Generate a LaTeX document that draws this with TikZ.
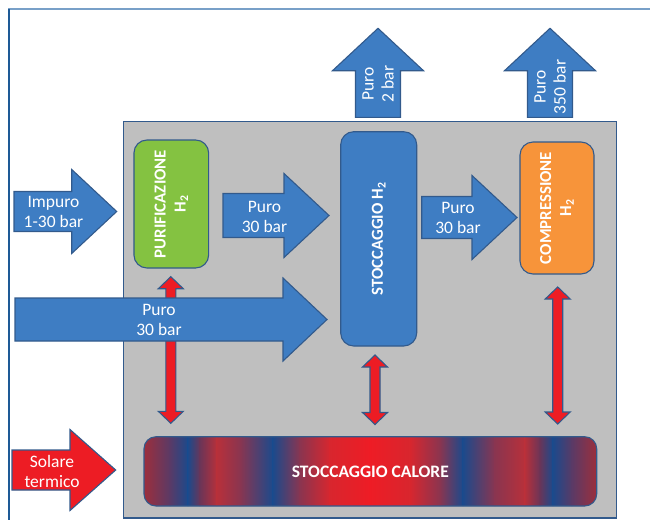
\documentclass[tikz,border=0pt]{standalone}
\usepackage{fontspec}
\setmainfont{Carlito}
\definecolor{arrowblue}{RGB}{62,125,195}
\definecolor{edgeblue}{RGB}{50,90,140}
\definecolor{boxgreen}{RGB}{132,194,65}
\definecolor{boxorange}{RGB}{247,148,58}
\definecolor{grayfill}{RGB}{191,191,191}
\definecolor{redfill}{RGB}{237,28,36}
\definecolor{frametop}{RGB}{120,160,200}
\definecolor{frameleft}{RGB}{30,90,150}
\definecolor{hA}{RGB}{160,46,58}
\definecolor{hB}{RGB}{90,58,102}
\definecolor{hC}{RGB}{27,74,140}
\definecolor{hD}{RGB}{106,53,88}
\definecolor{hE}{RGB}{184,48,58}
\definecolor{hF}{RGB}{138,53,80}
\definecolor{hG}{RGB}{216,38,46}
\definecolor{hH}{RGB}{238,28,37}
\newcommand\lblfont{\fontsize{17.5}{20}\selectfont}
\newcommand\boxfont{\fontsize{16.8}{20}\selectfont\bfseries}
\newcommand\rightblock[7][bluearrow]{%
  \draw[#1] (#2,{#5-#6}) -- (#3,{#5-#6}) -- (#3,{#5-#7}) -- (#4,#5) -- (#3,{#5+#7}) -- (#3,{#5+#6}) -- (#2,{#5+#6}) -- cycle;}
\newcommand\upblock[6]{%
  \draw[bluearrow] ({#1-#5},#2) -- ({#1-#5},#3) -- ({#1-#6},#3) -- (#1,#4) -- ({#1+#6},#3) -- ({#1+#5},#3) -- ({#1+#5},#2) -- cycle;}
\newcommand\dblred[3]{%
  \draw[redarrow] (#1,#2) -- ({#1+12.5},{#2+12}) -- ({#1+5},{#2+12}) -- ({#1+5},{#3-12}) -- ({#1+12.5},{#3-12}) -- (#1,#3) -- ({#1-12.5},{#3-12}) -- ({#1-5},{#3-12}) -- ({#1-5},{#2+12}) -- ({#1-12.5},{#2+12}) -- cycle;}
\tikzset{
  shapeedge/.style={draw=edgeblue, line width=1.1pt, line join=miter},
  bluearrow/.style={shapeedge, fill=arrowblue},
  redarrow/.style={shapeedge, fill=redfill},
  lab/.style={text=white, font=\lblfont, align=center, inner sep=0pt},
  boxlab/.style={text=white, font=\boxfont, align=center},
  procbox/.style={shapeedge, rounded corners=13pt, inner sep=0pt, rotate=90, boxlab},
}
\begin{document}
\begin{tikzpicture}[x=1pt, y=-1pt]
\useasboundingbox (0,0) rectangle (650,520);
% frame
\draw[frametop, line width=1.6pt] (8,9) -- (650,9);
\draw[frameleft, line width=1.6pt] (9,8.5) -- (9,520);
% gray area
\draw[fill=grayfill, draw=edgeblue, line width=1.5pt] (123.5,121.7) rectangle (616.7,518);
% red double arrows
\dblred{170.8}{276.7}{423.3}
\dblred{375}{355}{424.5}
\dblred{557.7}{287}{424}
% blue block arrows
\upblock{378}{117.3}{70.7}{28.3}{22.5}{45.5}
\upblock{550}{117.3}{70.7}{28.3}{22.5}{45.5}
\rightblock{14}{71.7}{116.7}{211.5}{20}{42}
\rightblock{223}{284}{329}{215.5}{22}{42}
\rightblock{421.7}{472}{517}{217.5}{21}{42}
\rightblock{15}{283}{327}{319.5}{21.5}{41.5}
\rightblock[redarrow]{12}{70}{115.7}{470}{20}{40.5}
% process boxes
\node[procbox, fill=boxgreen, minimum width=128pt, minimum height=74.7pt] (purif) at (171.3,204) {PURIFICAZIONE\\H\textsubscript{2}};
\node[procbox, fill=arrowblue, minimum width=214.3pt, minimum height=76pt] (stocc) at (378.7,238.85) {STOCCAGGIO H\textsubscript{2}};
\node[procbox, fill=boxorange, minimum width=132pt, minimum height=74pt] (comp) at (557,208) {COMPRESSIONE\\H\textsubscript{2}};
% heat storage gradient
\begin{scope}
\clip[rounded corners=12pt] (144,436.7) rectangle (596.7,506);
\foreach \xa/\ca/\xb/\cb in {143/hA/170/hB, 170/hB/188/hC, 188/hC/200/hD, 200/hD/217/hE, 217/hE/240/hF, 240/hF/273/hC, 273/hC/300/hF, 300/hF/330/hG, 330/hG/370/hH, 370/hH/410/hG, 410/hG/440/hF, 440/hF/463/hC, 463/hC/495/hF, 495/hF/525/hE, 525/hE/540/hD, 540/hD/553/hC, 553/hC/572/hB, 572/hB/598/hA}
  \shade[left color=\ca, right color=\cb] ({\xa-0.3},435) rectangle ({\xb+0.3},508);
\end{scope}
\node[shapeedge, rounded corners=12pt, minimum width=452.7pt, minimum height=69.3pt, inner sep=0pt, boxlab, font=\fontsize{17.5}{20}\selectfont\bfseries] (heat) at (370.35,471.35) {STOCCAGGIO CALORE};
% arrow labels
\node[lab] (limpuro) at (53.5,211.5) {Impuro\\1-30 bar};
\node[lab] (lpuro1) at (264.5,217) {Puro\\30 bar};
\node[lab] (lpuro2) at (458,218) {Puro\\30 bar};
\node[lab] (lpuro3) at (159,320) {Puro\\30 bar};
\node[lab] (lsolare) at (52,471.7) {Solare\\termico};
\node[lab, rotate=90] (lup1) at (378,84) {Puro\\2 bar};
\node[lab, rotate=90] (lup2) at (550,87) {Puro\\350 bar};
\end{tikzpicture}
\end{document}
